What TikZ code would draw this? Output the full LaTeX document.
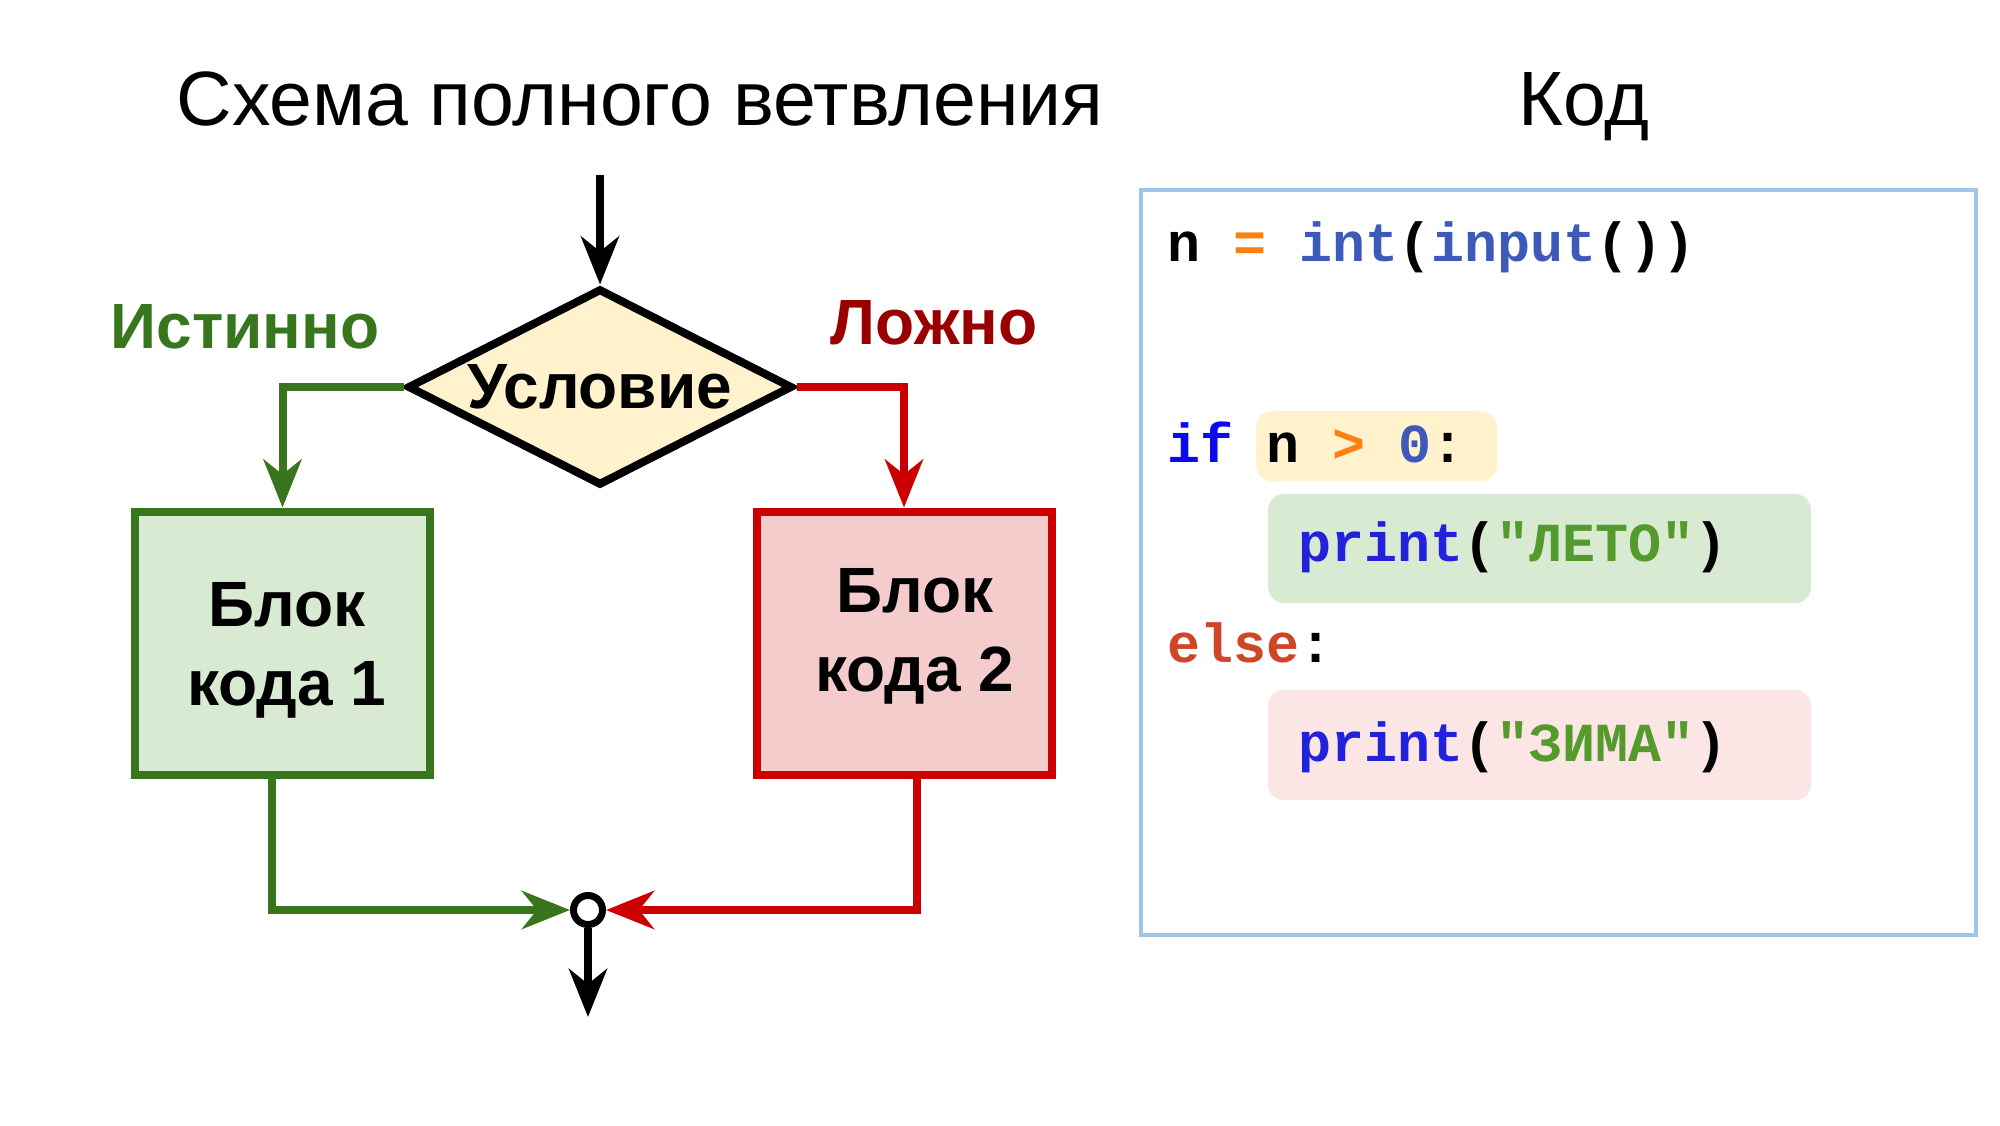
\documentclass[tikz,border=0pt]{standalone}
\usepackage{fontspec}
\setmainfont{Liberation Sans}
\newfontfamily\codefont{Liberation Mono}
\usetikzlibrary{arrows.meta,shapes.geometric}
\definecolor{gline}{HTML}{38761D}
\definecolor{rline}{HTML}{CC0000}
\definecolor{rlabel}{HTML}{990000}
\definecolor{gfill}{HTML}{D9EAD3}
\definecolor{rfill}{HTML}{F4CCCC}
\definecolor{yfill}{HTML}{FFF2CC}
\definecolor{pfill}{HTML}{FCE5E5}
\definecolor{cbox}{HTML}{9FC5E8}
\definecolor{corange}{HTML}{FF7F0E}
\definecolor{cfunc}{HTML}{3D5AB8}
\definecolor{ckw}{HTML}{0A0AF0}
\definecolor{cprint}{HTML}{2222DD}
\definecolor{cstr}{HTML}{549A2C}
\definecolor{celse}{HTML}{CF4526}
\begin{document}
\begin{tikzpicture}[x=1pt,y=-1pt,
  tip/.style={-{Stealth[length=48pt,width=38pt,inset=15pt]}},
  conn/.style={line width=8pt,tip},
  boxshape/.style={rectangle,line width=8pt,minimum width=295pt,minimum height=263pt,inner sep=0pt},
  bold/.style={font=\fontsize{64}{79}\selectfont\bfseries,align=center,inner sep=0pt},
  codeline/.style={anchor=base west,inner sep=0pt,font=\fontsize{55}{60}\selectfont\codefont\bfseries},
  hl/.style={rounded corners=16pt,draw=none,inner sep=0pt}
]
\useasboundingbox (0,0) rectangle (2000,1125);
\fill[white] (0,0) rectangle (2000,1125);

% titles
\node[anchor=base,inner sep=0pt,font=\fontsize{77}{90}\selectfont] (title) at (640,125) {Схема полного ветвления};
\node[anchor=base,inner sep=0pt,font=\fontsize{77}{90}\selectfont] (codetitle) at (1584,125) {Код};

% flowchart
\coordinate (start) at (600,175);
\node[diamond,draw=black,fill=yfill,line width=8pt,inner sep=0pt,aspect=2,
      minimum width=385pt,minimum height=197pt,
      font=\fontsize{64}{79}\selectfont\bfseries] (cond) at (600,387) {Условие};
\node[boxshape,draw=gline,fill=gfill] (b1) at (282.5,643) {};
\node[boxshape,draw=rline,fill=rfill] (b2) at (904,643) {};
\node[bold] (b1t) at (287,650) {Блок\\кода 1};
\node[bold] (b2t) at (915,636) {Блок\\кода 2};
\node[circle,draw=black,fill=white,line width=7pt,minimum size=29pt,inner sep=0pt] (j) at (588,910) {};
\coordinate (end) at (588,1017);

\node[anchor=base,inner sep=0pt,text=gline,font=\fontsize{64}{79}\selectfont\bfseries] (tlabel) at (245,348) {Истинно};
\node[anchor=base,inner sep=0pt,text=rlabel,font=\fontsize{64}{79}\selectfont\bfseries] (flabel) at (934,344) {Ложно};

\draw[conn,black] (start) -- (cond.north);
\draw[conn,gline] (cond.west) -| (b1.north);
\draw[conn,rline] (cond.east) -| (b2.north);
\draw[conn,gline] ([xshift=-11pt]b1.south) |- (j.west);
\draw[conn,rline] ([xshift=13pt]b2.south) |- (j.east);
\draw[conn,black] (j.south) -- (end);

% code panel
\node[rectangle,draw=cbox,fill=white,line width=4pt,minimum width=835pt,minimum height=745pt,inner sep=0pt] (codebox) at (1558.5,562) {};
\node[hl,fill=yfill,minimum width=241pt,minimum height=70pt] (hl1) at (1376.5,446) {};
\node[hl,fill=gfill,minimum width=543pt,minimum height=109pt] (hl2) at (1539.5,548.5) {};
\node[hl,fill=pfill,minimum width=543pt,minimum height=110pt] (hl3) at (1539.5,745) {};

\node[codeline] (c1) at (1167,261) {n \textcolor{corange}{=} \textcolor{cfunc}{int}(\textcolor{cfunc}{input}())};
\node[codeline] (c2) at (1167,462) {\textcolor{ckw}{if} n \textcolor{corange}{>} \textcolor{cfunc}{0}:};
\node[codeline] (c3) at (1298,561) {\textcolor{cprint}{print}(\textcolor{cstr}{"ЛЕТО"})};
\node[codeline] (c4) at (1167,662) {\textcolor{celse}{else}:};
\node[codeline] (c5) at (1298,761) {\textcolor{cprint}{print}(\textcolor{cstr}{"ЗИМА"})};
\end{tikzpicture}
\end{document}
